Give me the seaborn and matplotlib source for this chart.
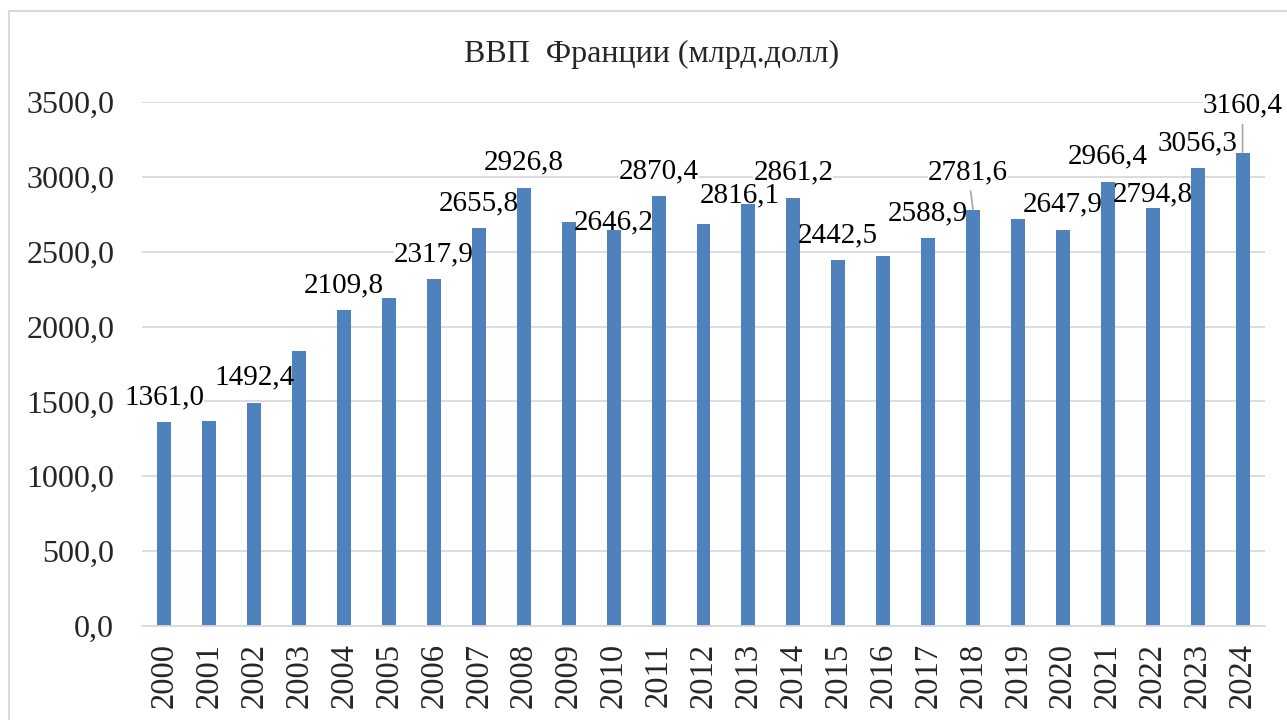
import matplotlib
matplotlib.use("Agg")
import matplotlib.pyplot as plt
import seaborn as sns
import pandas as pd
from matplotlib.patches import Rectangle
from matplotlib.ticker import FuncFormatter

# ВВП Франции, млрд. долл.
years = [str(y) for y in range(2000, 2025)]
gdp = [1361.0, 1372.0, 1492.4, 1840.0, 2109.8, 2194.0, 2317.9, 2655.8, 2926.8, 2700.0,
       2646.2, 2870.4, 2684.0, 2816.1, 2861.2, 2442.5, 2471.0, 2588.9, 2781.6, 2721.0,
       2647.9, 2966.4, 2794.8, 3056.3, 3160.4]
# подписи данных (не у всех столбцов)
labels = ["1361,0", None, "1492,4", None, "2109,8", None, "2317,9", "2655,8", "2926,8", None,
          "2646,2", "2870,4", None, "2816,1", "2861,2", "2442,5", None, "2588,9", "2781,6", None,
          "2647,9", "2966,4", "2794,8", "3056,3", "3160,4"]
title = "ВВП  Франции (млрд.долл)"

# ручные сдвиги подписей (в пунктах), как в исходной диаграмме
default_off = (0, 13)
label_off = {"2010": (0, 0), "2013": (-6.5, 1.2), "2018": (-3.5, 22),
             "2022": (0, 4.3), "2024": (0, 29)}
leader = {"2018", "2024"}

sns.set_style("white")
plt.rcParams["font.family"] = ["Liberation Serif", "DejaVu Serif"]

df = pd.DataFrame({"year": years, "gdp": gdp})

fig = plt.figure(figsize=(12.87, 7.2), dpi=100)
ax = fig.add_axes([142 / 1287, 1 - 626 / 720, (1265 - 142) / 1287, (626 - 102) / 720])

sns.barplot(data=df, x="year", y="gdp", color="#4f81bd", saturation=1, width=0.31,
            linewidth=0, ax=ax, zorder=2)

ax.set_ylim(0, 3500)
ax.set_xlim(-0.5, len(years) - 0.5)
ax.set_yticks(range(0, 3501, 500))
ax.yaxis.set_major_formatter(FuncFormatter(lambda v, p: f"{v:.1f}".replace(".", ",")))
ax.yaxis.grid(True, color="#d9d9d9", linewidth=1.3, zorder=0.5)
ax.set_axisbelow(True)
ax.set_xlabel("")
ax.set_ylabel("")
for s in ["left", "right", "top"]:
    ax.spines[s].set_visible(False)
ax.spines["bottom"].set_color("#d9d9d9")
ax.spines["bottom"].set_linewidth(1.3)
ax.tick_params(axis="y", length=0, pad=20, labelsize=23)
ax.tick_params(axis="x", length=0, pad=12, labelsize=23.5, labelrotation=90)

for i, (yr, val, lab) in enumerate(zip(years, gdp, labels)):
    if lab is None:
        continue
    dx, dy = label_off.get(yr, default_off)
    kw = dict(xy=(i, val), xytext=(dx, dy), textcoords="offset points",
              ha="center", va="baseline", fontsize=21, annotation_clip=False)
    # белая подложка под подписью: закрывает сетку, но не столбцы
    ax.annotate(lab, color="none", zorder=1,
                bbox=dict(boxstyle="square,pad=0", fc="white", ec="none"), **kw)
    arrow = None
    if yr in leader:
        arrow = dict(arrowstyle="-", color="#a6a6a6", lw=1.2, shrinkA=2, shrinkB=0)
    ax.annotate(lab, color="black", zorder=4, arrowprops=arrow, **kw)

fig.text(652 / 1287, 1 - 62 / 720, title, ha="center", va="baseline", fontsize=23)

# рамка области диаграммы
fig.patches.append(Rectangle((9 / 1287, -0.05), 1.1, 1 - 11 / 720 + 0.05,
                             transform=fig.transFigure, fill=False,
                             ec="#d9d9d9", lw=1.5))

fig.savefig("out.png", dpi=100)
